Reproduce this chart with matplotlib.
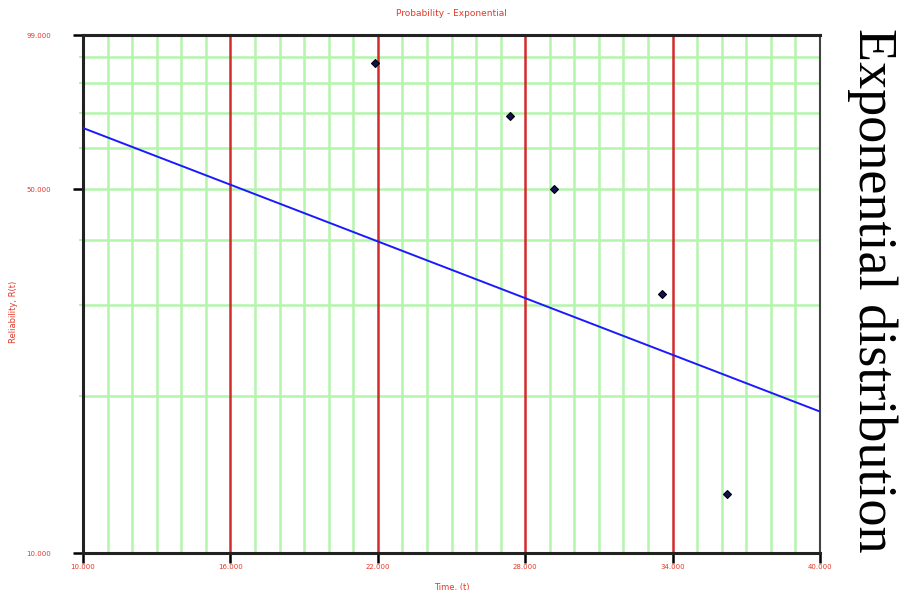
import matplotlib
matplotlib.use("Agg")
import matplotlib.pyplot as plt
from matplotlib.ticker import FixedLocator, NullFormatter

# Data
time_points = [21.89, 27.38, 29.17, 33.57, 36.21]
reliability_points = [87.6, 69.3, 50.1, 31.5, 13.0]
fit_time = [10.0, 40.0]
fit_reliability = [65.6, 18.7]
x_major = [10, 16, 22, 28, 34, 40]
x_labels = ["10.000", "16.000", "22.000", "28.000", "34.000", "40.000"]
y_major = [10, 50, 99]
y_labels = ["10.000", "50.000", "99.000"]
y_minor = [20, 30, 40, 60, 70, 80, 90]
x_minor = [v for v in range(10, 41) if v not in x_major]

RED = "#d42a2a"
GREEN = "#b4f5ac"
LBL = "#e03a2a"

fig = plt.figure(figsize=(9.02, 5.90), dpi=100)
ax = fig.add_axes([83/902, 1-553/590, (820-83)/902, (553-35)/590])
ax.set_yscale("log")
ax.set_xlim(10, 40)
ax.set_ylim(10, 99)

# grid
for v in x_minor:
    ax.axvline(v, color=GREEN, lw=1.8, zorder=1)
for v in y_minor:
    ax.axhline(v, color=GREEN, lw=1.8, zorder=1)
ax.axhline(50, color=GREEN, lw=1.8, zorder=1)
for v in x_major[1:-1]:
    ax.axvline(v, color=RED, lw=1.8, zorder=2)

ax.plot(fit_time, fit_reliability, color="#1a1aff", lw=1.4, zorder=3)
ax.plot(time_points, reliability_points, linestyle="none", marker="D",
        markersize=4.5, markerfacecolor="#10105a", markeredgecolor="black",
        markeredgewidth=0.8, zorder=4)

ax.xaxis.set_major_locator(FixedLocator(x_major))
ax.set_xticklabels(x_labels)
ax.yaxis.set_major_locator(FixedLocator(y_major))
ax.yaxis.set_minor_locator(FixedLocator(y_minor))
ax.yaxis.set_minor_formatter(NullFormatter())
ax.set_yticklabels(y_labels)
ax.tick_params(axis="x", which="major", length=7, width=1.8, pad=1,
               labelsize=5, labelcolor=LBL)
ax.tick_params(axis="y", which="major", length=7, width=1.8, pad=16,
               labelsize=5, labelcolor=LBL)
ax.tick_params(axis="y", which="minor", length=3, width=1.5, color=GREEN)
for t in ax.xaxis.get_major_ticks()[1:-1]:
    t.tick1line.set_color(RED)
ax.yaxis.get_major_ticks()[1].tick1line.set_color(GREEN)

for s in ["left", "bottom", "top"]:
    ax.spines[s].set_color("#222222")
    ax.spines[s].set_linewidth(2.2)
ax.spines["right"].set_color("#444444")
ax.spines["right"].set_linewidth(1.5)

ax.set_xlabel("Time, (t)", fontsize=6, color=LBL, labelpad=9)
ax.set_ylabel("Reliability, R(t)", fontsize=6, color=LBL)
ax.yaxis.set_label_coords(-0.088, 0.465)
ax.set_title("Probability - Exponential", fontsize=6.5, color=LBL, pad=14)

fig.text(0.967, 0.508, "Exponential distribution", rotation=270,
         fontsize=39, family="Liberation Serif", ha="center", va="center",
         color="black")

fig.savefig("out.png", dpi=100)
